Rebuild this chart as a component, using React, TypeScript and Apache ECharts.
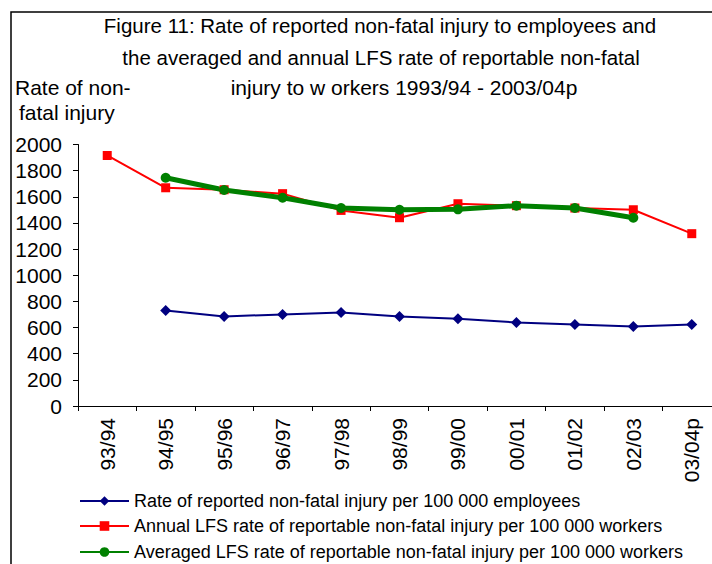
import React, { useEffect, useRef } from "react";
import * as echarts from "echarts";

const categories = ["93/94", "94/95", "95/96", "96/97", "97/98", "98/99", "99/00", "00/01", "01/02", "02/03", "03/04p"];
const reportedRate = [null, 730, 685, 700, 715, 685, 667, 639, 624, 608, 624];
const annualLFS = [1916, 1669, 1654, 1624, 1496, 1440, 1547, 1532, 1514, 1501, 1318];
const averagedLFS = [null, 1746, 1652, 1593, 1514, 1501, 1504, 1532, 1514, 1440, null];
const seriesNames = [
  "Rate of reported non-fatal injury per 100 000 employees",
  "Annual LFS rate of reportable non-fatal injury per 100 000 workers",
  "Averaged LFS rate of reportable non-fatal injury per 100 000 workers",
];
const titleLines = [
  "Figure 11: Rate of reported non-fatal injury to employees and",
  "the averaged and annual LFS rate of reportable non-fatal",
  "injury to w orkers 1993/94 - 2003/04p",
];
const yAxisTitle = ["Rate of non-", "fatal injury"];

const FONT = "Liberation Sans, Arial, sans-serif";

export default function App() {
  const ref = useRef<HTMLDivElement>(null);
  useEffect(() => {
    if (!ref.current) return;
    const chart = echarts.init(ref.current, null, { renderer: "svg" });
    const legendTops = [492, 517, 543];
    chart.setOption({
      animation: false,
      backgroundColor: "#ffffff",
      textStyle: { fontFamily: FONT },
      grid: { left: 78, width: 643, top: 144.5, bottom: 158, containLabel: false },
      xAxis: {
        type: "category",
        data: categories,
        boundaryGap: true,
        axisLine: { lineStyle: { color: "#000", width: 1 } },
        axisTick: { show: true, length: 5, lineStyle: { color: "#000" } },
        axisLabel: { rotate: 90, margin: 12, fontSize: 21, color: "#000", fontFamily: FONT, interval: 0 },
        splitLine: { show: false },
      },
      yAxis: {
        type: "value",
        min: 0,
        max: 2000,
        interval: 200,
        axisLine: { show: true, lineStyle: { color: "#000", width: 1 } },
        axisTick: { show: true, length: 5, inside: false, lineStyle: { color: "#000" } },
        axisLabel: { margin: 16, fontSize: 21, color: "#000", fontFamily: FONT, formatter: (v: number) => String(v) },
        splitLine: { show: false },
      },
      legend: seriesNames.map((n, i) => ({
        orient: "vertical",
        left: 79,
        top: legendTops[i],
        padding: 0,
        itemWidth: 49,
        itemHeight: 12,
        textStyle: { fontSize: 18, color: "#000", fontFamily: FONT },
        data: [n],
      })),
      series: [
        {
          name: seriesNames[0],
          type: "line",
          data: reportedRate,
          color: "#000080",
          lineStyle: { width: 2, color: "#000080" },
          itemStyle: { color: "#000080" },
          symbol: "diamond",
          symbolSize: 11,
        },
        {
          name: seriesNames[1],
          type: "line",
          data: annualLFS,
          color: "#ff0000",
          lineStyle: { width: 2, color: "#ff0000" },
          itemStyle: { color: "#ff0000" },
          symbol: "rect",
          symbolSize: 9,
        },
        {
          name: seriesNames[2],
          type: "line",
          data: averagedLFS,
          color: "#008000",
          lineStyle: { width: 5, color: "#008000" },
          itemStyle: { color: "#008000" },
          symbol: "circle",
          symbolSize: 10,
        },
      ],
      graphic: [
        {
          type: "rect",
          shape: { x: 11, y: 12, width: 900, height: 800 },
          style: { fill: "none", stroke: "#000", lineWidth: 1.5 },
          silent: true,
        },
        {
          type: "text",
          style: { text: titleLines[0], x: 380, y: 25, textAlign: "center", textVerticalAlign: "middle", fontSize: 20.5, fontFamily: FONT, fill: "#000" },
        },
        {
          type: "text",
          style: { text: titleLines[1], x: 381, y: 57, textAlign: "center", textVerticalAlign: "middle", fontSize: 20.5, fontFamily: FONT, fill: "#000" },
        },
        {
          type: "text",
          style: { text: titleLines[2], x: 404, y: 87, textAlign: "center", textVerticalAlign: "middle", fontSize: 21, fontFamily: FONT, fill: "#000" },
        },
        {
          type: "text",
          style: { text: yAxisTitle[0], x: 15, y: 87, textAlign: "left", textVerticalAlign: "middle", fontSize: 21, fontFamily: FONT, fill: "#000" },
        },
        {
          type: "text",
          style: { text: yAxisTitle[1], x: 19, y: 112, textAlign: "left", textVerticalAlign: "middle", fontSize: 21, fontFamily: FONT, fill: "#000" },
        },
      ],
    });
    return () => chart.dispose();
  }, []);
  return (
    <div style={{ position: "fixed", left: 0, top: 0, width: 712, height: 564, overflow: "hidden", background: "#fff" }}>
      <div ref={ref} style={{ width: 730, height: 564 }} />
    </div>
  );
}
